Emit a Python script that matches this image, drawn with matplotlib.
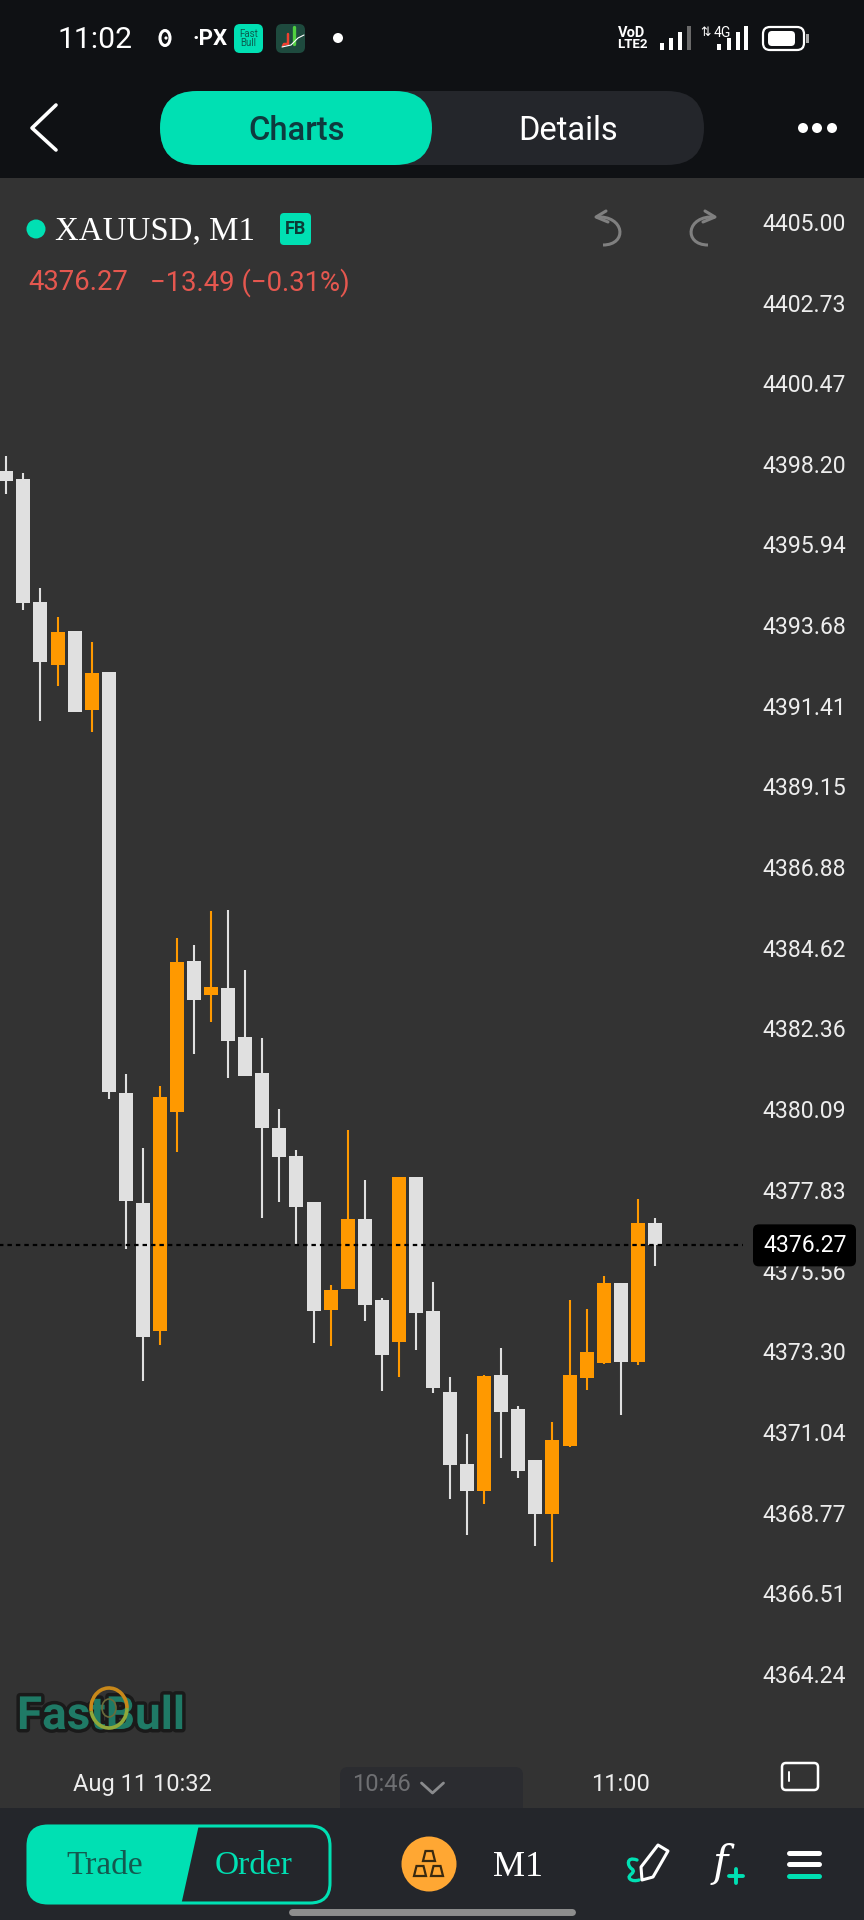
import matplotlib
matplotlib.use("Agg")
import matplotlib.pyplot as plt
import matplotlib.patheffects as pe
from matplotlib.patches import Circle, Ellipse, FancyBboxPatch, PathPatch, Polygon, Rectangle, Arc
from matplotlib.path import Path
import numpy as np

plt.rcParams['font.family'] = ['Roboto', 'DejaVu Sans']

# candles, oldest first (white = falling, orange = rising)
open_ = [4398.00, 4397.77, 4394.32, 4392.55, 4393.52, 4391.29, 4392.36, 4380.55, 4377.47, 4373.86,
         4380.01, 4384.25, 4383.29, 4383.48, 4382.12, 4381.11, 4379.56, 4378.77, 4377.49, 4374.45,
         4375.04, 4377.02, 4374.75, 4373.55, 4378.20, 4374.42, 4372.16, 4370.13, 4369.38, 4372.62,
         4371.68, 4370.24, 4368.73, 4370.65, 4372.55, 4372.98, 4375.22, 4372.99, 4376.90]
high = [4398.42, 4397.95, 4394.71, 4393.91, 4393.52, 4393.20, 4392.36, 4381.08, 4378.99, 4380.74,
        4384.91, 4384.70, 4385.64, 4385.68, 4383.99, 4382.10, 4380.10, 4378.94, 4377.49, 4375.15,
        4379.51, 4378.10, 4374.78, 4378.18, 4378.20, 4375.24, 4372.57, 4370.97, 4372.62, 4373.38,
        4371.76, 4370.25, 4371.32, 4374.73, 4374.48, 4375.41, 4375.22, 4377.56, 4377.04]
low = [4397.36, 4394.10, 4390.99, 4391.97, 4391.24, 4390.68, 4380.37, 4376.16, 4372.46, 4373.46,
       4378.89, 4381.65, 4382.53, 4380.97, 4381.02, 4377.04, 4377.49, 4376.28, 4373.54, 4373.45,
       4375.04, 4374.14, 4372.17, 4372.57, 4373.33, 4372.14, 4369.16, 4368.14, 4369.01, 4370.29,
       4369.75, 4367.83, 4367.39, 4370.60, 4372.21, 4372.94, 4371.51, 4372.91, 4375.70]
close = [4397.72, 4394.31, 4392.64, 4393.48, 4391.24, 4392.33, 4380.57, 4377.52, 4373.69, 4380.42,
         4384.21, 4383.17, 4383.53, 4382.01, 4381.02, 4379.55, 4378.76, 4377.36, 4374.43, 4375.02,
         4377.01, 4374.59, 4373.20, 4378.18, 4374.38, 4372.26, 4370.11, 4369.37, 4372.60, 4371.60,
         4369.94, 4368.72, 4370.80, 4372.62, 4373.28, 4375.22, 4373.01, 4376.89, 4376.27]

price_ticks = [4405.00, 4402.73, 4400.47, 4398.20, 4395.94, 4393.68, 4391.41, 4389.15, 4386.88, 4384.62,
               4382.36, 4380.09, 4377.83, 4375.56, 4373.30, 4371.04, 4368.77, 4366.51, 4364.24]
time_tick_idx = [8, 22, 36]
time_tick_labels = ['Aug 11 10:32', '10:46', '11:00']

last_price = 4376.27
change_text = '\u221213.49 (\u22120.31%)'

TEAL = '#00E0B3'
ORANGE = '#FF9900'
CANDLE_WHITE = '#E0E0E0'
CHART_BG = '#333333'
HEADER_BG = '#0F1114'
BAR_BG = '#24262B'
LABEL = '#EDEDED'
SERIF = 'Liberation Serif'

fig = plt.figure(figsize=(8.64, 19.2), dpi=100, facecolor=HEADER_BG)

# price chart
ax = fig.add_axes([0, (1920 - 1808) / 1920, 1, (1808 - 178) / 1920], facecolor=CHART_BG)
x = np.arange(len(close))
o = np.array(open_)
c = np.array(close)
colors = [ORANGE if c[i] > o[i] else CANDLE_WHITE for i in x]

ax.vlines(x, low, high, colors=colors, linewidth=1.5, zorder=2)
ax.bar(x, np.abs(c - o), bottom=np.minimum(o, c), width=0.82, color=colors, zorder=3)
ax.hlines(last_price, -1, 43.16, colors='black', linewidth=1.6, linestyles=(0, (2.0, 1.8)), zorder=4)

ax.set_xlim(-0.369, 50.25)
ax.set_ylim(4360.48, 4406.225)
for s in ax.spines.values():
    s.set_visible(False)

ax.yaxis.tick_right()
ax.set_yticks(price_ticks)
ax.set_yticklabels(['%.2f' % p for p in price_ticks])
ax.tick_params(axis='y', length=0, pad=-73, labelsize=16.6, labelcolor=LABEL)
ax.set_xticks(time_tick_idx)
ax.set_xticklabels(time_tick_labels)
ax.tick_params(axis='x', length=0, pad=-25.5, labelsize=17, labelcolor=LABEL)
ax.get_xticklabels()[1].set_color('#6E6F72')

# overlay in screen pixels for the app chrome
ui = fig.add_axes([0, 0, 1, 1], facecolor='none', zorder=5)
ui.set_xlim(0, 864)
ui.set_ylim(1920, 0)
ui.axis('off')


def rbox(x0, y0, x1, y1, r, fc='none', ec='none', lw=0, z=2):
    p = FancyBboxPatch((x0 + r, y0 + r), x1 - x0 - 2 * r, y1 - y0 - 2 * r,
                       boxstyle='round,pad=%s,rounding_size=%s' % (r, r),
                       fc=fc, ec=ec, lw=lw, zorder=z)
    ui.add_patch(p)
    return p


def stroke(xs, ys, color='white', lw=2.0, z=3):
    ui.plot(xs, ys, color=color, lw=lw, solid_capstyle='round', solid_joinstyle='round', zorder=z)


# footer bar and the tab behind the middle time label
ui.add_patch(Rectangle((0, 1808), 864, 112, fc=BAR_BG, ec='none', zorder=1))
ax.add_patch(FancyBboxPatch((348, 1775), 167, 60, boxstyle='round,pad=8,rounding_size=8',
                            fc='#2B2C30', ec='none', transform=ui.transData, zorder=0.5))
stroke([421.5, 432.5, 443.5], [1783, 1793, 1783], color='#8A8B8D', lw=2)

# current price tag
y_last = 1920 - ax.transData.transform((0, last_price))[1]
rbox(753, y_last - 21, 856, y_last + 21, 6, fc='black')
ui.text(763, y_last, '%.2f' % last_price, color='white', fontsize=16.6, va='center', zorder=3)

# status bar
ui.text(57, 40, '11:02', color='white', fontsize=21.7, va='center')
ui.add_patch(Ellipse((165, 38), 10, 15, fc='none', ec='white', lw=2.2))
ui.add_patch(Circle((166, 38), 1.6, fc='white'))
ui.text(192, 39, '·PX', color='white', fontsize=16, fontweight='bold', va='center')
rbox(234, 24, 263, 53, 6, fc=TEAL)
ui.text(248.5, 38.5, 'Fast\nBull', color='#0B5E50', fontsize=7, ha='center', va='center', linespacing=0.95, zorder=3)
rbox(276, 24, 305, 53, 6, fc='#1E4A3E')
stroke([283, 284, 288, 288], [46, 44, 44, 34], color='#F04030', lw=1.8)
stroke([294, 294], [27, 44], color='#50D040', lw=2.4)
stroke([282, 291, 298, 304], [47, 45, 38, 35], color='white', lw=0.8)
ui.add_patch(Circle((338, 38), 5, fc='white'))

ui.text(632, 33, 'VoD', color='white', fontsize=10.5, fontweight='bold', ha='center', va='center')
ui.text(632, 45, 'LTE2', color='white', fontsize=9.5, fontweight='bold', ha='center', va='center')
for bx, bh, bc in zip([662, 671, 680, 689], [7, 12, 18, 24], ['white', 'white', 'white', '#6A6A6A']):
    ui.add_patch(Rectangle((bx - 1.8, 50 - bh), 3.6, bh, fc=bc, ec='none'))
ui.text(722, 33, '4G', color='white', fontsize=10, ha='center', va='center')
ui.text(706, 33, '⇅', color='white', fontsize=9, ha='center', va='center', family='DejaVu Sans')
for bx, bh in zip([719, 729, 738, 746], [6, 12, 18, 24]):
    ui.add_patch(Rectangle((bx - 1.8, 50 - bh), 3.6, bh, fc='white', ec='none'))
rbox(763, 27, 804, 50, 7, ec='white', lw=1.6)
rbox(768, 31, 795, 46, 4, fc='white')
ui.add_patch(Rectangle((806, 34), 2.5, 9, fc='#AAAAAA', ec='none'))

# nav row
stroke([56, 32, 56], [105, 128, 150], lw=2.6)
rbox(160, 91, 704, 165, 37, fc=BAR_BG)
rbox(160, 91, 432, 165, 37, fc=TEAL)
ui.text(297, 130.5, 'Charts', color='#0E3B3E', fontsize=23.5, fontweight='medium', ha='center', va='center', zorder=3)
ui.text(568, 130.5, 'Details', color='white', fontsize=23.5, ha='center', va='center', zorder=3)
for dx in [803, 817, 832]:
    ui.add_patch(Circle((dx, 128), 5, fc='white'))

# instrument header
ui.add_patch(Circle((36, 229), 9.5, fc=TEAL))
ui.text(55, 231, 'XAUUSD, M1', color='white', fontsize=23.7, family=SERIF, va='center')
rbox(280, 213, 311, 245, 4, fc=TEAL)
ui.text(295.5, 229.5, 'FB', color='#0B3B36', fontsize=13, fontweight='bold', ha='center', va='center', zorder=3)
ui.text(28, 283, '%.2f' % last_price, color='#E5574F', fontsize=19.8, va='center')
ui.text(150, 283, change_text, color='#E5574F', fontsize=19.8, va='center')

# undo / redo
undo = Path([(596, 217), (625, 215), (628, 245), (603, 245)], [Path.MOVETO, Path.CURVE4, Path.CURVE4, Path.CURVE4])
redo = Path([(715, 217), (686, 215), (683, 245), (708, 245)], [Path.MOVETO, Path.CURVE4, Path.CURVE4, Path.CURVE4])
for pth in [undo, redo]:
    ui.add_patch(PathPatch(pth, fc='none', ec='#808080', lw=2.2))
stroke([606, 596, 608], [211, 217, 222], color='#808080', lw=2.2)
stroke([705, 715, 703], [211, 217, 222], color='#808080', lw=2.2)

# watermark
ui.text(17, 1716, 'FastBull', color='#1F7A66', fontsize=33, fontweight='bold', va='center',
        path_effects=[pe.withStroke(linewidth=5, foreground='#1A1A1A')])
ui.add_patch(Arc((109, 1708), 36, 40, theta1=170, theta2=360, ec='#C8881A', lw=2.6, zorder=4))
ui.add_patch(Arc((109, 1708), 36, 40, theta1=0, theta2=170, ec='#8FA83A', lw=2.6, zorder=4))
ui.add_patch(Ellipse((109, 1708), 14, 18, fc='none', ec='#6B6B3A', lw=1.2, zorder=4))

# rectangle icon next to the time axis
rbox(782, 1763, 818, 1790, 4, ec='white', lw=1.8, z=3)
stroke([789, 789], [1772, 1781], lw=1.4)

# Trade / Order button
outline = rbox(28, 1826, 330, 1903, 20, ec=TEAL, lw=2.2, z=3)
fill = Polygon([(20, 1820), (200, 1820), (180, 1910), (20, 1910)], fc=TEAL, ec='none', zorder=2)
ui.add_patch(fill)
fill.set_clip_path(outline)
ui.text(105, 1866, 'Trade', color='#14594F', fontsize=24, family=SERIF, ha='center', va='center', zorder=4)
ui.text(254, 1866, 'Order', color=TEAL, fontsize=24, family=SERIF, ha='center', va='center', zorder=4)

# symbol and timeframe
ui.add_patch(Ellipse((429, 1864), 55, 55, fc='#FFA733', ec='none', zorder=2))
for tx, ty in [(429, 1856), (420, 1871), (437, 1871)]:
    ui.add_patch(Polygon([(tx - 3.5, ty - 5), (tx + 3.5, ty - 5), (tx + 6, ty + 5), (tx - 6, ty + 5)],
                         fc='none', ec='#3A2A10', lw=1.6, zorder=3))
ui.text(518, 1868, 'M1', color='white', fontsize=26, family=SERIF, ha='center', va='center')

# drawing, indicator and menu icons
squiggle = Path([(637, 1860), (626, 1856), (627, 1866), (632, 1869), (637, 1873), (626, 1875), (630, 1879), (632, 1881), (636, 1881), (639, 1880)],
                [Path.MOVETO] + [Path.CURVE4] * 9)
ui.add_patch(PathPatch(squiggle, fc='none', ec=TEAL, lw=2.4, capstyle='round'))
ui.add_patch(Polygon([(658, 1845), (668, 1851), (653, 1877), (642, 1880), (641, 1867)],
                     fc='none', ec='white', lw=2.2, joinstyle='round'))
ui.text(720, 1864, 'f', color='white', fontsize=30, family='DejaVu Serif', style='italic', ha='center', va='center')
stroke([729, 743], [1876, 1876], color=TEAL, lw=2.8)
stroke([736, 736], [1869, 1883], color=TEAL, lw=2.8)
stroke([789, 819], [1853, 1853], lw=3.6)
stroke([789, 819], [1864, 1864], lw=3.6)
stroke([789, 819], [1876, 1876], color=TEAL, lw=3.6)

# home indicator
stroke([292, 572], [1912, 1912], color='#8E8E8E', lw=5)

fig.savefig('out.png', dpi=100, facecolor=fig.get_facecolor())
plt.close(fig)
